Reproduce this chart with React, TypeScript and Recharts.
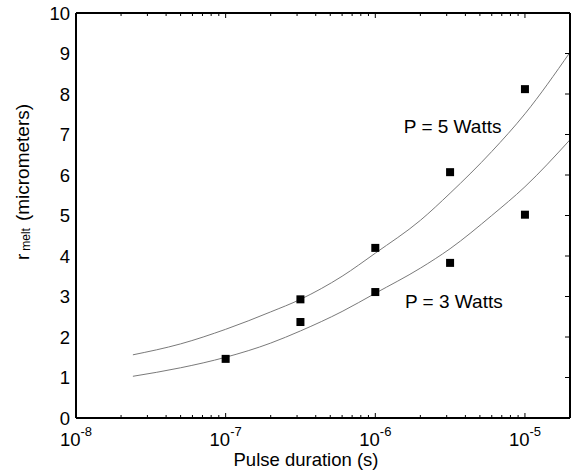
import React from 'react';
import { ComposedChart, Line, Scatter, XAxis, YAxis, ReferenceDot } from 'recharts';

// ---- data ----
const majorTicks = [1e-8, 1e-7, 1e-6, 1e-5];
const minorMultipliers = [2, 3, 4, 5, 6, 7, 8, 9];
const yTicks = [0, 1, 2, 3, 4, 5, 6, 7, 8, 9, 10];
const xDomain = [1e-8, 2e-5];

// fitted model curves
const curveDuration = [2.4e-8, 5e-8, 1e-7, 2e-7, 3.16e-7, 6e-7, 1e-6, 2e-6, 3.16e-6, 6e-6, 1e-5, 2e-5];
const curve5W = [1.56, 1.83, 2.19, 2.62, 2.93, 3.5, 4.07, 4.88, 5.55, 6.58, 7.51, 9.03];
const curve3W = [1.03, 1.24, 1.5, 1.85, 2.15, 2.63, 3.08, 3.7, 4.18, 5.0, 5.71, 6.87];

// measured points
const measured5WDuration = [3.16e-7, 1e-6, 3.16e-6, 1e-5];
const measured5W = [2.93, 4.2, 6.07, 8.12];
const measured3WDuration = [1e-7, 3.16e-7, 1e-6, 3.16e-6, 1e-5];
const measured3W = [1.46, 2.37, 3.11, 3.83, 5.02];

const annotations = [
  { text: 'P = 5 Watts', x: 1.55e-6, y: 7.04 },
  { text: 'P = 3 Watts', x: 1.58e-6, y: 2.72 },
];

// ---- derived tables ----
const xTicks: number[] = [];
majorTicks.forEach((m) => {
  xTicks.push(m);
  minorMultipliers.forEach((k) => {
    const v = m * k;
    if (v < xDomain[1]) xTicks.push(v);
  });
});

const line5 = curveDuration.map((t, i) => ({ t, r: curve5W[i] }));
const line3 = curveDuration.map((t, i) => ({ t, r: curve3W[i] }));
const pts5 = measured5WDuration.map((t, i) => ({ t, r: measured5W[i] }));
const pts3 = measured3WDuration.map((t, i) => ({ t, r: measured3W[i] }));

const FONT = '"Liberation Sans", Arial, Helvetica, sans-serif';

const isMajor = (v: number) => {
  const l = Math.log10(v);
  return Math.abs(l - Math.round(l)) < 1e-6;
};

const BottomTick = (props: any) => {
  const { x, y, payload } = props;
  const v = payload.value;
  const major = isMajor(v);
  return (
    <g>
      <line x1={x} x2={x} y1={y} y2={y - (major ? 5 : 3)} stroke="#000" strokeWidth={1} />
      {major && (
        <text x={x} y={y + 28} textAnchor="middle" fontSize={18.5} fontFamily={FONT} fill="#000">
          <tspan>10</tspan>
          <tspan dy={-10} fontSize={13}>{String(Math.round(Math.log10(v)))}</tspan>
        </text>
      )}
    </g>
  );
};

const TopTick = (props: any) => {
  const { x, y, payload } = props;
  const major = isMajor(payload.value);
  return <line x1={x} x2={x} y1={y} y2={y + (major ? 5 : 3)} stroke="#000" strokeWidth={1} />;
};

const LeftTick = (props: any) => {
  const { x, y, payload } = props;
  return (
    <text x={x - 6} y={y + 6.5} textAnchor="end" fontSize={18.5} fontFamily={FONT} fill="#000">
      {payload.value}
    </text>
  );
};

const RightTick = (props: any) => {
  const { x, y } = props;
  return <line x1={x - 5} x2={x} y1={y} y2={y} stroke="#000" strokeWidth={1} />;
};

const XLabel = (props: any) => {
  const vb = props.viewBox || {};
  const cx = vb.x + vb.width / 2 - 17;
  return (
    <text x={cx} y={vb.y + 48} textAnchor="middle" fontSize={18.5} fontFamily={FONT} fill="#000">
      Pulse duration (s)
    </text>
  );
};

const YLabel = (props: any) => {
  const vb = props.viewBox || {};
  const cx = vb.x + 29;
  const cy = vb.y + 169;
  return (
    <text
      x={cx}
      y={cy}
      transform={`rotate(-90, ${cx}, ${cy})`}
      textAnchor="middle"
      fontSize={19}
      fontFamily={FONT}
      fill="#000"
    >
      <tspan>r</tspan>
      <tspan fontSize={12} dx={3} dy={1}>melt</tspan>
      <tspan dx={7} dy={-1}>(micrometers)</tspan>
    </text>
  );
};

const Square = (props: any) => {
  const { cx, cy } = props;
  return <rect x={cx - 4} y={cy - 4} width={8} height={8} fill="#000" />;
};

export default function App() {
  return (
    <div style={{ position: 'absolute', left: 0, top: 0, background: '#fff' }}>
      <ComposedChart width={574} height={474} margin={{ top: 12, right: 3, bottom: 0, left: 0 }}>
        <XAxis
          xAxisId="bottom"
          dataKey="t"
          type="number"
          scale="log"
          domain={xDomain}
          allowDataOverflow
          ticks={xTicks}
          interval={0}
          tick={<BottomTick />}
          tickLine={false}
          tickSize={0}
          tickMargin={0}
          height={56}
          axisLine={{ stroke: '#000', strokeWidth: 2 }}
          label={<XLabel />}
        />
        <XAxis
          xAxisId="top"
          orientation="top"
          dataKey="t"
          type="number"
          scale="log"
          domain={xDomain}
          allowDataOverflow
          ticks={xTicks}
          interval={0}
          tick={<TopTick />}
          tickLine={false}
          tickSize={0}
          tickMargin={0}
          height={1}
          axisLine={{ stroke: '#000', strokeWidth: 2 }}
        />
        <YAxis
          yAxisId="left"
          type="number"
          domain={[0, 10]}
          ticks={yTicks}
          interval={0}
          tick={<LeftTick />}
          tickLine={false}
          tickSize={0}
          tickMargin={0}
          width={76}
          axisLine={{ stroke: '#000', strokeWidth: 2 }}
          label={<YLabel />}
        />
        <YAxis
          yAxisId="right"
          orientation="right"
          type="number"
          domain={[0, 10]}
          ticks={yTicks}
          interval={0}
          tick={<RightTick />}
          tickLine={false}
          tickSize={0}
          tickMargin={0}
          width={1}
          axisLine={{ stroke: '#000', strokeWidth: 2 }}
        />
        <Line
          xAxisId="top"
          yAxisId="right"
          data={line5}
          dataKey="r"
          stroke="none"
          dot={false}
          activeDot={false}
          legendType="none"
          isAnimationActive={false}
        />
        <Line
          xAxisId="bottom"
          yAxisId="left"
          data={line5}
          dataKey="r"
          type="monotone"
          stroke="#7a7a7a"
          strokeWidth={1}
          dot={false}
          isAnimationActive={false}
        />
        <Line
          xAxisId="bottom"
          yAxisId="left"
          data={line3}
          dataKey="r"
          type="monotone"
          stroke="#7a7a7a"
          strokeWidth={1}
          dot={false}
          isAnimationActive={false}
        />
        <Scatter xAxisId="bottom" yAxisId="left" data={pts5} dataKey="r" shape={<Square />} isAnimationActive={false} />
        <Scatter xAxisId="bottom" yAxisId="left" data={pts3} dataKey="r" shape={<Square />} isAnimationActive={false} />
        {annotations.map((a) => (
          <ReferenceDot
            key={a.text}
            xAxisId="bottom"
            yAxisId="left"
            x={a.x}
            y={a.y}
            r={0}
            shape={(p: any) => (
              <text x={p.cx} y={p.cy} fontSize={19} fontFamily={FONT} fill="#000">
                {a.text}
              </text>
            )}
          />
        ))}
      </ComposedChart>
    </div>
  );
}
